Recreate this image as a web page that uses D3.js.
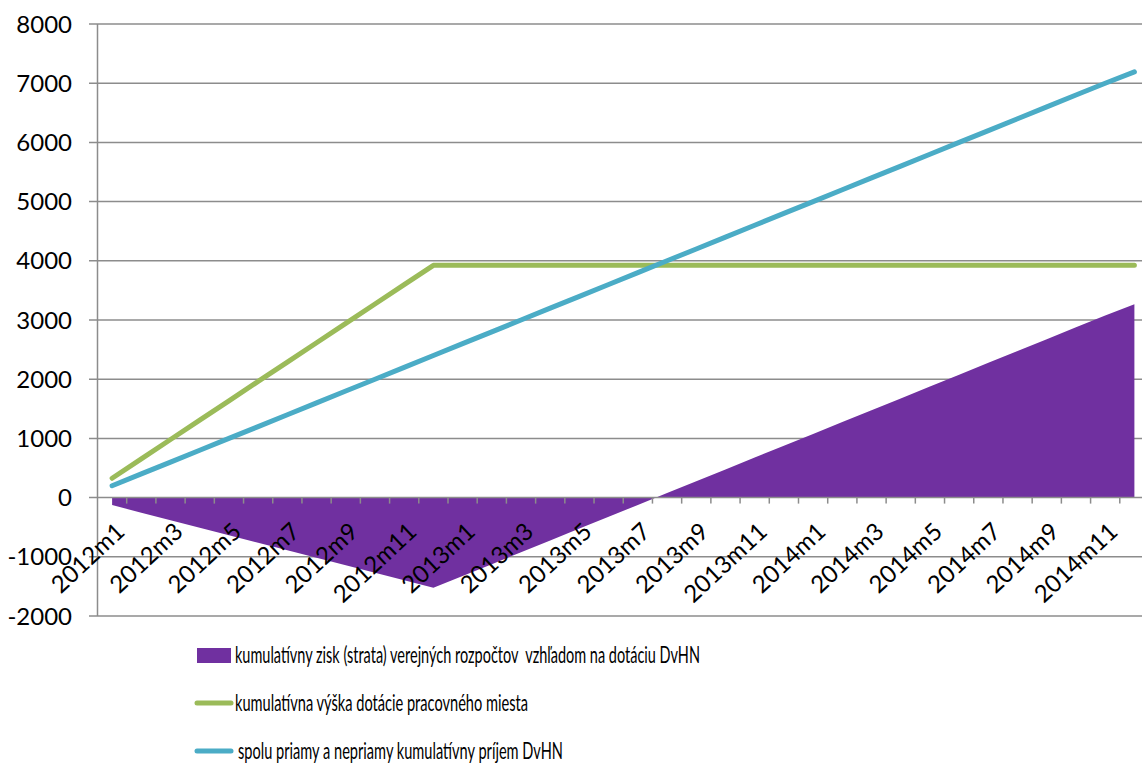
<!DOCTYPE html>
<html><head><meta charset="utf-8">
<script src="https://cdn.jsdelivr.net/npm/d3@7/dist/d3.min.js"></script>
<style>body{margin:0;background:#fff;} svg{display:block;font-family:Lato,"Open Sans",sans-serif;}</style>
</head><body><svg id="c" width="1142" height="763"></svg>
<script>
const months = [];
["2012","2013","2014"].forEach(y=>{for(let m=1;m<=12;m++) months.push(y+"m"+m);});
const incomeTotal = [200,400,600,800,1000,1200,1400,1600,1800,2000,2200,2400,2600,2800,3000,3200,3400,3600,3800,4000,4200,4400,4600,4800,5000,5200,5400,5600,5800,6000,6200,6400,6600,6800,7000,7190];
const subsidy = [327,654,981,1308,1635,1962,2289,2616,2943,3270,3597,3924,3924,3924,3924,3924,3924,3924,3924,3924,3924,3924,3924,3924,3924,3924,3924,3924,3924,3924,3924,3924,3924,3924,3924,3924];
const balance = [-127,-254,-381,-508,-635,-762,-889,-1016,-1143,-1270,-1397,-1524,-1324,-1124,-924,-724,-524,-324,-124,76,276,476,676,876,1076,1276,1476,1676,1876,2076,2276,2476,2676,2876,3076,3266];
const yTicks = [-2000,-1000,0,1000,2000,3000,4000,5000,6000,7000,8000];
const legendLabels = ["kumulatívny zisk (strata) verejných rozpočtov  vzhľadom na dotáciu DvHN","kumulatívna výška dotácie pracovného miesta","spolu priamy a nepriamy kumulatívny príjem DvHN"];
const colors = {balance:"#7030A0", subsidy:"#9BBB59", income:"#4BACC6", grid:"#8C8C8C"};

const svg = d3.select("#c");
const x = d3.scaleBand().domain(months).range([97.5, 1149]).padding(0);
const y = d3.scaleLinear().domain([-2000, 8000]).range([616, 24]);
const cx = d => x(d) + x.bandwidth()/2;

// gridlines
svg.append("g").selectAll("line").data(yTicks.filter(v=>v!==0)).join("line")
  .attr("x1", 89).attr("x2", 1149).attr("y1", d=>y(d)).attr("y2", d=>y(d))
  .attr("stroke", colors.grid).attr("stroke-width", 1.5);

// area
const area = d3.area().x((d,i)=>cx(months[i])).y0(y(0)).y1(d=>y(d));
svg.append("path").datum(balance).attr("d", area).attr("fill", colors.balance);

// zero axis with ticks
svg.append("line").attr("x1",89).attr("x2",1149).attr("y1",y(0)).attr("y2",y(0)).attr("stroke",colors.grid).attr("stroke-width",1.5);
svg.append("g").selectAll("line").data(months.slice(1)).join("line")
  .attr("x1", d=>x(d)).attr("x2", d=>x(d)).attr("y1", y(0)).attr("y2", y(0)+6)
  .attr("stroke", colors.grid).attr("stroke-width", 1.5);
// y axis line
svg.append("line").attr("x1",97.5).attr("x2",97.5).attr("y1",y(8000)).attr("y2",y(-2000)).attr("stroke",colors.grid).attr("stroke-width",1.5);

// lines
const line = d3.line().x((d,i)=>cx(months[i])).y(d=>y(d));
svg.append("path").datum(subsidy).attr("d", line).attr("fill","none").attr("stroke",colors.subsidy).attr("stroke-width",5).attr("stroke-linecap","round").attr("stroke-linejoin","round");
svg.append("path").datum(incomeTotal).attr("d", line).attr("fill","none").attr("stroke",colors.income).attr("stroke-width",5).attr("stroke-linecap","round").attr("stroke-linejoin","round");

// y labels
svg.append("g").selectAll("text").data(yTicks).join("text")
  .attr("x", 72).attr("y", d=>y(d)).attr("dy","0.36em").attr("text-anchor","end")
  .attr("font-size", 24).attr("fill","#000").text(d=>d);

// x labels
svg.append("g").selectAll("text").data(months.filter((d,i)=>i%2===0)).join("text")
  .attr("text-anchor","end").attr("font-size", 24).attr("fill","#000")
  .attr("transform", d=>`translate(${cx(d)+14},${y(0)+36}) rotate(-43)`).text(d=>d);

// legend
const lg = svg.append("g");
lg.append("rect").attr("x",197).attr("y",648).attr("width",34).attr("height",15).attr("fill",colors.balance);
lg.append("line").attr("x1",197).attr("x2",231).attr("y1",703).attr("y2",703).attr("stroke",colors.subsidy).attr("stroke-width",5).attr("stroke-linecap","round");
lg.append("line").attr("x1",197).attr("x2",231).attr("y1",751).attr("y2",751).attr("stroke",colors.income).attr("stroke-width",5).attr("stroke-linecap","round");
const lgPos = [{x:235,y:663,w:465},{x:235,y:711,w:293},{x:238,y:759,w:325}];
lg.selectAll("text").data(legendLabels).join("text")
  .attr("x",(d,i)=>lgPos[i].x).attr("y",(d,i)=>lgPos[i].y)
  .attr("font-size",24).attr("fill","#000")
  .attr("textLength",(d,i)=>lgPos[i].w).attr("lengthAdjust","spacingAndGlyphs")
  .style("white-space","pre").text(d=>d);
</script></body></html>
